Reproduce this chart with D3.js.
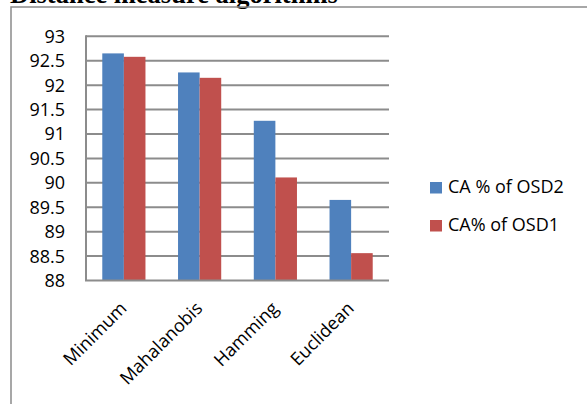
<!DOCTYPE html>
<html><head><meta charset="utf-8">
<script src="https://cdn.jsdelivr.net/npm/d3@7"></script>
<style>
html,body{margin:0;padding:0;background:#fff;}
svg{display:block;}
text{font-family:"Open Sans",sans-serif;fill:#000;}
</style></head>
<body>
<svg id="chart" width="587" height="404"></svg>
<script>
const title = "Distance measure algorithms";
const categories = ["Minimum", "Mahalanobis", "Hamming", "Euclidean"];
const seriesNames = ["CA % of OSD2", "CA% of OSD1"];
const osd2 = [92.65, 92.26, 91.27, 89.65];
const osd1 = [92.58, 92.15, 90.11, 88.56];
const yTicks = [88, 88.5, 89, 89.5, 90, 90.5, 91, 91.5, 92, 92.5, 93];
const colors = ["#4F81BD", "#C0504D"];

const svg = d3.select("#chart");
const plot = {left: 86, right: 389, top: 36.3, bottom: 280.5};

// title (cut off at top, as in the reference)
svg.append("text").attr("x", 10).attr("y", 3)
  .attr("font-weight", "bold").attr("font-size", 26.5)
  .style("font-family", "'Liberation Serif', serif")
  .text(title);

// border box
svg.append("rect").attr("x", 11).attr("y", 7).attr("width", 600).attr("height", 420)
  .attr("fill", "none").attr("stroke", "#8a8a8a").attr("stroke-width", 1.5);

const x = d3.scaleBand().domain(categories).range([plot.left, plot.right])
  .paddingInner(0.43).paddingOuter(0.215);
const xs = d3.scaleBand().domain(seriesNames).range([0, x.bandwidth()]);
const y = d3.scaleLinear().domain([88, 93]).range([plot.bottom, plot.top]);

// gridlines
svg.append("g").selectAll("line").data(yTicks.filter(t => t > 88)).join("line")
  .attr("x1", plot.left).attr("x2", plot.right)
  .attr("y1", d => y(d)).attr("y2", d => y(d))
  .attr("stroke", "#8c8c8c").attr("stroke-width", 2);

// bars
const data = categories.map((c, i) => ({c, vals: [osd2[i], osd1[i]]}));
const g = svg.append("g").selectAll("g").data(data).join("g")
  .attr("transform", d => `translate(${x(d.c)},0)`);
g.selectAll("rect").data(d => d.vals.map((v, k) => ({v, k}))).join("rect")
  .attr("x", d => xs(seriesNames[d.k])).attr("width", xs.bandwidth())
  .attr("y", d => y(d.v)).attr("height", d => y(88) - y(d.v))
  .attr("fill", d => colors[d.k]);

// axes lines
svg.append("line").attr("x1", plot.left).attr("x2", plot.left)
  .attr("y1", plot.top - 1).attr("y2", plot.bottom)
  .attr("stroke", "#8c8c8c").attr("stroke-width", 2);
svg.append("line").attr("x1", plot.left - 1).attr("x2", plot.right)
  .attr("y1", plot.bottom).attr("y2", plot.bottom)
  .attr("stroke", "#8c8c8c").attr("stroke-width", 2);

// y tick labels
svg.append("g").selectAll("text").data(yTicks).join("text")
  .attr("x", 65).attr("y", d => y(d)).attr("dy", "0.36em")
  .attr("text-anchor", "end").attr("font-size", 18)
  .text(d => d);

// x labels
svg.append("g").selectAll("text").data(categories).join("text")
  .attr("transform", d => `translate(${x(d) + x.bandwidth() / 2 + 4},${plot.bottom + 29}) rotate(-45)`)
  .attr("text-anchor", "end").attr("font-size", 18)
  .text(d => d);

// legend
const leg = svg.append("g").selectAll("g").data(seriesNames).join("g")
  .attr("transform", (d, i) => `translate(430,${182 + i * 38})`);
leg.append("rect").attr("width", 12).attr("height", 11.5).attr("fill", (d, i) => colors[i]);
leg.append("text").attr("x", 18).attr("y", 11).attr("font-size", 18).text(d => d);
</script>
</body></html>
